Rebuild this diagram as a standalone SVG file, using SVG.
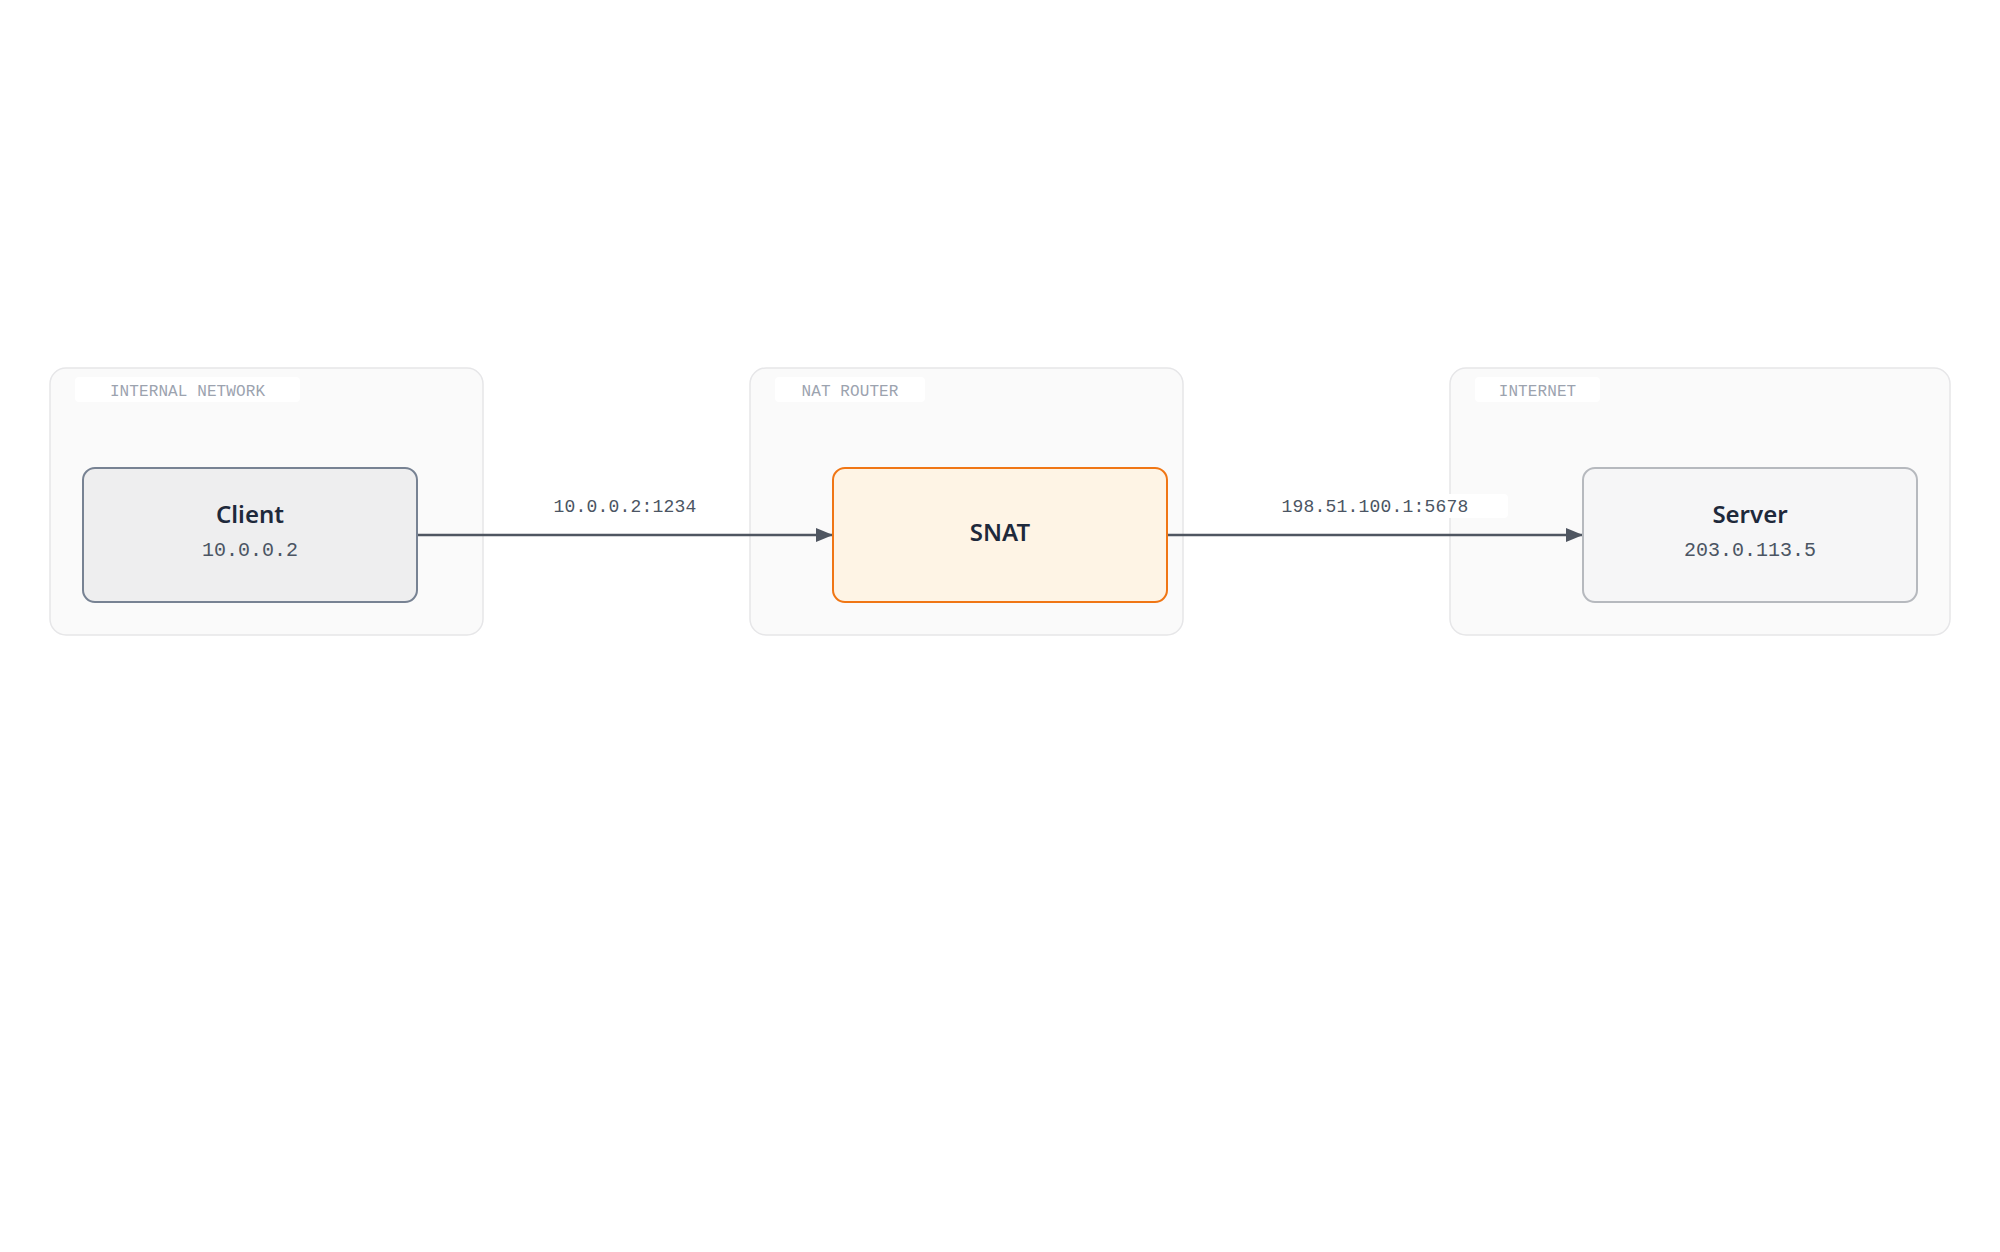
<svg xmlns="http://www.w3.org/2000/svg" width="2000" height="1252" viewBox="0 0 2000 1252">
  <defs>
    <style>
      .grp { fill: #fafafa; stroke: #e6e6e8; stroke-width: 1.5; }
      .glbg { fill: #ffffff; }
      .glabel { font-family: "Liberation Mono", "DejaVu Sans Mono", monospace; font-size: 16px; letter-spacing: 0.1px; fill: #9ca3af; text-anchor: middle; }
      .title { font-family: "Noto Sans", "Open Sans", sans-serif; font-size: 24px; font-weight: 600; fill: #1e293b; text-anchor: middle; }
      .sub { font-family: "Liberation Mono", "DejaVu Sans Mono", monospace; font-size: 20px; fill: #4b5563; text-anchor: middle; }
      .elabel { font-family: "Liberation Mono", "DejaVu Sans Mono", monospace; font-size: 18px; letter-spacing: 0.2px; fill: #4b5563; text-anchor: middle; }
      .edge { stroke: #4f5661; stroke-width: 2.5; fill: none; }
    </style>
    <marker id="arrow" markerUnits="userSpaceOnUse" markerWidth="17" markerHeight="14" refX="17" refY="7" orient="auto">
      <path d="M0,0 L17,7 L0,14 z" fill="#4f5661"/>
    </marker>
  </defs>
  <rect x="0" y="0" width="2000" height="1252" fill="#ffffff"/>

  <g id="group-internal">
    <rect class="grp" x="50" y="368" width="433" height="267" rx="16"/>
    <rect class="glbg" x="75" y="377" width="225" height="25" rx="4"/>
    <text class="glabel" x="187.5" y="396">INTERNAL NETWORK</text>
  </g>
  <g id="group-nat">
    <rect class="grp" x="750" y="368" width="433" height="267" rx="16"/>
    <rect class="glbg" x="775" y="377" width="150" height="25" rx="4"/>
    <text class="glabel" x="850" y="396">NAT ROUTER</text>
  </g>
  <g id="group-internet">
    <rect class="grp" x="1450" y="368" width="500" height="267" rx="16"/>
    <rect class="glbg" x="1475" y="377" width="125" height="25" rx="4"/>
    <text class="glabel" x="1537.5" y="396">INTERNET</text>
  </g>

  <g id="connectors">
    <rect x="514" y="494" width="222" height="24" rx="4" fill="#ffffff"/>
    <rect x="1242" y="494" width="266" height="24" rx="4" fill="#ffffff"/>
    <line class="edge" x1="417" y1="535" x2="833" y2="535" marker-end="url(#arrow)"/>
    <line class="edge" x1="1167" y1="535" x2="1583" y2="535" marker-end="url(#arrow)"/>
    <text class="elabel" x="625" y="512">10.0.0.2:1234</text>
    <text class="elabel" x="1375" y="512">198.51.100.1:5678</text>
  </g>

  <g id="node-client">
    <rect x="83" y="468" width="334" height="134" rx="12" fill="#eeeeef" stroke="#778293" stroke-width="2"/>
    <text class="title" x="250" y="523">Client</text>
    <text class="sub" x="250" y="556">10.0.0.2</text>
  </g>
  <g id="node-snat">
    <rect x="833" y="468" width="334" height="134" rx="12" fill="#fef4e5" stroke="#f07614" stroke-width="2"/>
    <text class="title" x="1000" y="541">SNAT</text>
  </g>
  <g id="node-server">
    <rect x="1583" y="468" width="334" height="134" rx="12" fill="#f6f6f7" stroke="#b6b9be" stroke-width="2"/>
    <text class="title" x="1750" y="523">Server</text>
    <text class="sub" x="1750" y="556">203.0.113.5</text>
  </g>
</svg>
